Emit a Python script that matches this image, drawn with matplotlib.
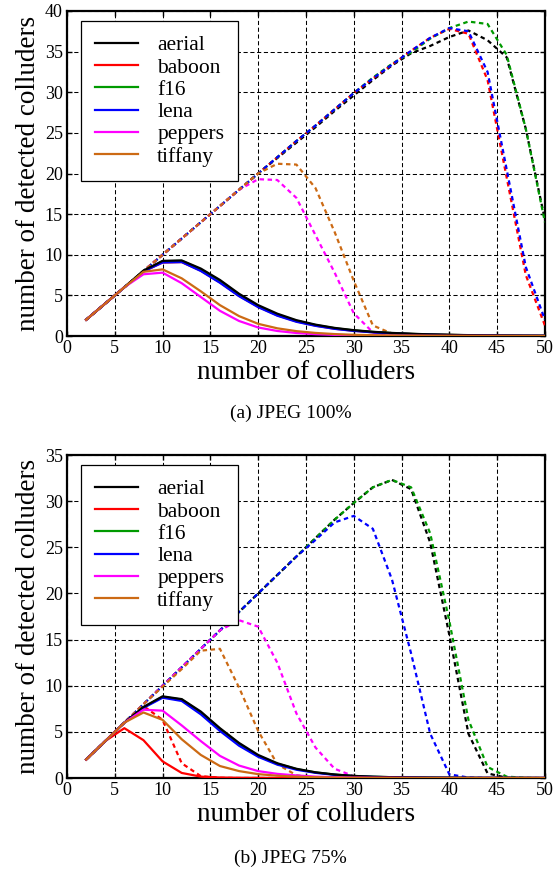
import numpy as np
import matplotlib
matplotlib.use("Agg")
import matplotlib.pyplot as plt

plt.rcParams['font.family'] = ['Liberation Serif', 'DejaVu Serif']

names = ['aerial', 'baboon', 'f16', 'lena', 'peppers', 'tiffany']
colors = ['black', '#ff0000', '#009a00', '#0000ff', '#ff00ff', '#cc6a14']

x = list(range(2, 51, 2))

# (a) JPEG 100% - solid curves
a_solid = {
    'aerial':  [2, 4, 6, 8.05, 9.25, 9.3, 8.3, 6.9, 5.2, 3.8, 2.75, 1.95, 1.4, 1.0, 0.72, 0.52, 0.38, 0.28, 0.2, 0.15, 0.11, 0.08, 0.06, 0.04, 0.03],
    'baboon':  [2, 4, 6, 7.95, 9.05, 9.1, 8.05, 6.6, 4.95, 3.6, 2.55, 1.8, 1.28, 0.9, 0.65, 0.46, 0.34, 0.25, 0.18, 0.13, 0.1, 0.07, 0.05, 0.03, 0.02],
    'f16':     [2, 4, 6, 8.0, 9.2, 9.25, 8.2, 6.8, 5.1, 3.7, 2.65, 1.88, 1.35, 0.96, 0.69, 0.5, 0.36, 0.26, 0.19, 0.14, 0.1, 0.07, 0.05, 0.04, 0.03],
    'lena':    [2, 4, 6, 7.95, 9.05, 9.1, 8.0, 6.55, 4.9, 3.55, 2.5, 1.75, 1.25, 0.88, 0.63, 0.45, 0.33, 0.24, 0.17, 0.12, 0.09, 0.07, 0.05, 0.03, 0.02],
    'peppers': [2, 4, 6, 7.6, 7.8, 6.5, 4.8, 3.1, 1.85, 1.05, 0.62, 0.37, 0.23, 0.14, 0.09, 0.06, 0.04, 0.03, 0.02, 0.01, 0.01, 0.01, 0, 0, 0],
    'tiffany': [2, 4, 6, 7.9, 8.2, 7.1, 5.5, 3.8, 2.45, 1.5, 0.95, 0.6, 0.38, 0.24, 0.15, 0.1, 0.07, 0.05, 0.03, 0.02, 0.01, 0.01, 0.01, 0, 0],
}
# (a) JPEG 100% - dashed curves
a_dash = {
    'aerial':  [2, 4, 6, 8, 10, 12, 14, 16, 18, 20, 21.9, 23.8, 25.7, 27.7, 29.6, 31.5, 33.3, 34.8, 35.7, 36.8, 37.6, 36.4, 34.3, 25.5, 14.3],
    'baboon':  [2, 4, 6, 8, 10, 12, 14, 16, 18, 20, 22, 24, 25.9, 27.9, 29.9, 31.7, 33.4, 35.1, 36.7, 37.8, 37.2, 31.5, 19.5, 7.5, 1.3],
    'f16':     [2, 4, 6, 8, 10, 12, 14, 16, 18, 20, 22, 24, 25.9, 27.9, 29.9, 31.8, 33.5, 34.9, 36.6, 37.9, 38.7, 38.4, 34.6, 25.5, 14.0],
    'lena':    [2, 4, 6, 8, 10, 12, 14, 16, 18, 20, 22, 24, 25.9, 27.9, 29.9, 31.7, 33.4, 35.1, 36.7, 37.9, 37.5, 32.5, 20.5, 8.5, 2.0],
    'peppers': [2, 4, 6, 8, 10, 12, 14, 16, 18, 19.3, 19.2, 17.0, 12.4, 7.8, 2.8, 0.45, 0.05, 0, 0, 0, 0, 0, 0, 0, 0],
    'tiffany': [2, 4, 6, 8, 10, 12, 14, 16, 18, 20, 21.2, 21.1, 18.2, 12.8, 6.8, 1.3, 0.3, 0, 0, 0, 0, 0, 0, 0, 0],
}

# (b) JPEG 75% - solid curves
b_solid = {
    'aerial':  [2, 4, 6, 7.7, 8.85, 8.55, 7.2, 5.4, 3.8, 2.5, 1.6, 1.0, 0.62, 0.38, 0.23, 0.14, 0.09, 0.06, 0.04, 0.03, 0.02, 0.01, 0.01, 0.01, 0],
    'baboon':  [2, 4, 5.4, 4.1, 1.8, 0.55, 0.15, 0.05, 0.02, 0.01, 0, 0, 0, 0, 0, 0, 0, 0, 0, 0, 0, 0, 0, 0, 0],
    'f16':     [2, 4, 6, 7.65, 8.8, 8.5, 7.1, 5.3, 3.7, 2.4, 1.55, 0.97, 0.6, 0.37, 0.22, 0.14, 0.09, 0.06, 0.04, 0.03, 0.02, 0.01, 0.01, 0.01, 0],
    'lena':    [2, 4, 6, 7.6, 8.7, 8.35, 6.9, 5.1, 3.5, 2.3, 1.45, 0.9, 0.56, 0.34, 0.2, 0.12, 0.08, 0.05, 0.03, 0.02, 0.01, 0.01, 0.01, 0, 0],
    'peppers': [2, 4, 6, 7.4, 7.3, 5.7, 4.0, 2.4, 1.35, 0.75, 0.45, 0.28, 0.15, 0.08, 0.05, 0.03, 0.02, 0.01, 0, 0, 0, 0, 0, 0, 0],
    'tiffany': [2, 4, 6, 7.1, 6.3, 4.2, 2.5, 1.3, 0.75, 0.42, 0.25, 0.15, 0.09, 0.05, 0.03, 0.02, 0.01, 0, 0, 0, 0, 0, 0, 0, 0],
}
# (b) JPEG 75% - dashed curves
b_dash = {
    'aerial':  [2, 4, 6, 8, 10, 12, 14, 16, 18, 20, 22, 24, 26, 28, 29.8, 31.5, 32.3, 31.3, 25.5, 15.5, 4.8, 0.5, 0.03, 0, 0],
    'baboon':  [2, 4, 6, 7.8, 6.3, 1.6, 0.2, 0.02, 0, 0, 0, 0, 0, 0, 0, 0, 0, 0, 0, 0, 0, 0, 0, 0, 0],
    'f16':     [2, 4, 6, 8, 10, 12, 14, 16, 18, 20, 22, 24, 26, 28, 29.8, 31.5, 32.3, 31.5, 26.5, 17.0, 6.3, 1.2, 0.15, 0.02, 0],
    'lena':    [2, 4, 6, 8, 10, 12, 14, 16, 18, 20, 22, 24, 25.8, 27.7, 28.4, 27.0, 21.5, 13.5, 4.8, 0.4, 0.05, 0, 0, 0, 0],
    'peppers': [2, 4, 6, 8, 10, 12, 14, 16, 17.1, 16.4, 12.5, 7.0, 3.3, 1.0, 0.2, 0.02, 0, 0, 0, 0, 0, 0, 0, 0, 0],
    'tiffany': [2, 4, 6, 8, 9.9, 11.8, 13.8, 14.0, 9.8, 5.1, 1.5, 0.3, 0.03, 0, 0, 0, 0, 0, 0, 0, 0, 0, 0, 0, 0],
}

panels = [
    (a_solid, a_dash, 40, '(a) JPEG 100%', [0.1203, 0.6151, 0.858, 0.3723], 0.527),
    (b_solid, b_dash, 35, '(b) JPEG 75%', [0.1203, 0.1088, 0.858, 0.3700], 0.0172),
]

# drawing order for the solid lines (black should sit on top of the others)
z_solid = {'aerial': 6, 'baboon': 3, 'f16': 4, 'lena': 5, 'peppers': 7, 'tiffany': 8}
dash_off = {'aerial': 0, 'baboon': 0, 'f16': 3, 'lena': 3, 'peppers': 0, 'tiffany': 0}

fig = plt.figure(figsize=(5.57, 8.73), dpi=100)

for solid, dash, ymax, caption, pos, cap_y in panels:
    ax = fig.add_axes(pos)
    for name, c in zip(names, colors):
        ax.plot(x, solid[name], color=c, lw=1.6, label=name, zorder=z_solid[name])
    for name, c in zip(names, colors):
        ax.plot(x, dash[name], color=c, lw=1.6,
                linestyle=(dash_off[name], (2.0, 1.6)), zorder=3)

    ax.set_xlim(0, 50)
    ax.set_ylim(0, ymax)
    ax.set_xticks(np.arange(0, 51, 5))
    ax.set_yticks(np.arange(0, ymax + 1, 5))
    ax.grid(True, color='black', linestyle=(0, (4, 2.5)), lw=0.75)
    ax.tick_params(direction='in', top=True, right=True, length=3.5, width=1.0,
                   labelsize=13, pad=3)
    for sp in ax.spines.values():
        sp.set_linewidth(1.6)

    ax.set_xlabel('number of colluders', fontsize=19.5, labelpad=2)
    ax.set_ylabel('number of detected colluders', fontsize=19.5, labelpad=3)

    leg = ax.legend(loc='upper left', bbox_to_anchor=(0.029, 0.968), fontsize=15.5,
                    frameon=True, fancybox=False, edgecolor='black', framealpha=1,
                    handlelength=2.0, handletextpad=0.9, labelspacing=0.1,
                    borderpad=0.65, borderaxespad=0)
    leg.get_frame().set_linewidth(0.9)

    fig.text(0.522, cap_y, caption, ha='center', va='center', fontsize=14)

fig.savefig('out.png', dpi=100)
